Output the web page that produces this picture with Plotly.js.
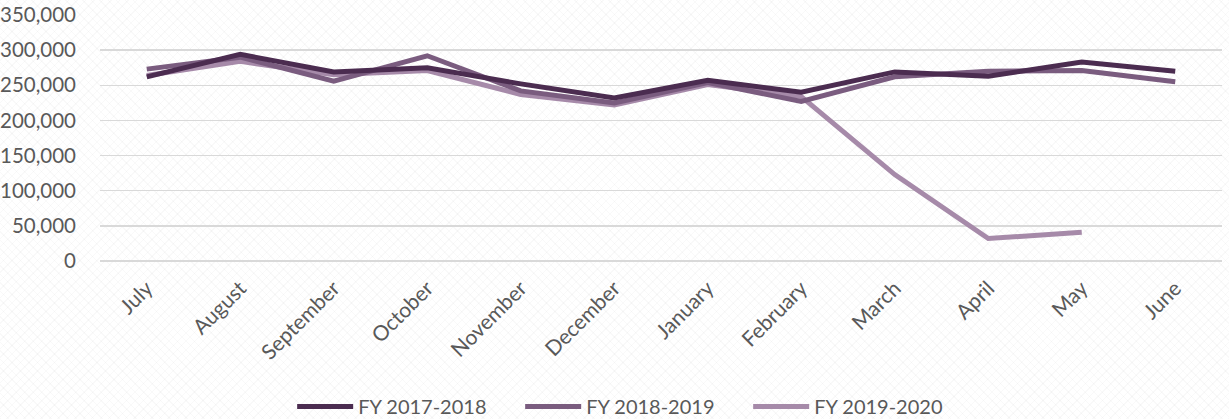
<!DOCTYPE html>
<html>
<head>
<meta charset="utf-8">
<script src="https://cdn.plot.ly/plotly-3.0.1.min.js"></script>
<style>
    html, body { margin: 0; padding: 0; }
    body {
        width: 1229px;
        height: 419px;
        background-color: #ffffff;
        background-image:
            repeating-linear-gradient(45deg, rgba(0,0,0,0.025) 0 1px, transparent 1px 6px),
            repeating-linear-gradient(-45deg, rgba(0,0,0,0.025) 0 1px, transparent 1px 6px);
        overflow: hidden;
    }
    #chart { width: 1229px; height: 419px; }
</style>
</head>
<body>
<div id="chart"></div>
<script>
// Monthly totals by fiscal year
const months = ['July', 'August', 'September', 'October', 'November', 'December',
    'January', 'February', 'March', 'April', 'May', 'June'];

const fy1718 = [262000, 294000, 269000, 275000, 252000, 232000, 257000, 240000, 269000, 263000, 283000, 270000];
const fy1819 = [273000, 290000, 256000, 292000, 242000, 225000, 254000, 227000, 262000, 270000, 271000, 255000];
const fy1920 = [264000, 284000, 265000, 271000, 237000, 222000, 251000, 234000, 123000, 32000, 41000];

const seriesNames = ['FY 2017-2018', 'FY 2018-2019', 'FY 2019-2020'];
const seriesColors = ['#4b2c50', '#7a5c7f', '#a68aa9'];

const textColor = '#595959';
const font = 'Lato, "Open Sans", sans-serif';

function lineTrace(values, i) {
    return {
        type: 'scatter',
        mode: 'lines',
        x: months.slice(0, values.length),
        y: values,
        name: seriesNames[i],
        line: { color: seriesColors[i], width: 5, shape: 'linear' },
        hoverinfo: 'x+y+name'
    };
}

// draw the lightest line first so darker ones sit on top
const data = [
    lineTrace(fy1920, 2),
    lineTrace(fy1819, 1),
    lineTrace(fy1718, 0)
];

const layout = {
    width: 1229,
    height: 419,
    paper_bgcolor: 'rgba(0,0,0,0)',
    plot_bgcolor: 'rgba(0,0,0,0)',
    margin: { l: 100, r: 7, t: 15, b: 158, pad: 0, autoexpand: false },
    font: { family: font, size: 21, color: textColor },
    showlegend: true,
    legend: {
        orientation: 'h',
        x: 0.516,
        xref: 'container',
        xanchor: 'center',
        y: 0.03,
        yref: 'container',
        yanchor: 'middle',
        traceorder: 'reversed',
        entrywidth: 157,
        itemwidth: 56,
        font: { family: font, size: 20, color: textColor },
        bgcolor: 'rgba(0,0,0,0)'
    },
    xaxis: {
        type: 'category',
        categoryorder: 'array',
        categoryarray: months,
        tickangle: -45,
        automargin: false,
        showgrid: false,
        showline: false,
        zeroline: false,
        ticks: '',
        ticklen: 0,
        ticklabelstandoff: 10,
        tickfont: { family: font, size: 21, color: textColor },
        range: [-0.5, 11.5]
    },
    yaxis: {
        range: [0, 350000],
        tickvals: [0, 50000, 100000, 150000, 200000, 250000, 300000, 350000],
        tickformat: ',d',
        automargin: false,
        showgrid: true,
        gridcolor: '#d9d9d9',
        gridwidth: 1.5,
        zeroline: true,
        zerolinecolor: '#d9d9d9',
        zerolinewidth: 1.5,
        showline: false,
        ticks: '',
        ticklabelstandoff: 23,
        tickfont: { family: font, size: 20.5, color: textColor }
    }
};

const config = {
    responsive: false,
    displayModeBar: false,
    staticPlot: true
};

Plotly.newPlot('chart', data, layout, config);
</script>
</body>
</html>
